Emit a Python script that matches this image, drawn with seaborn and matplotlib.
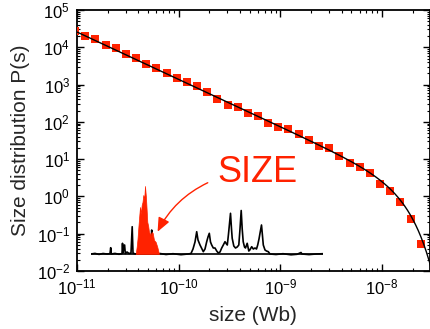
import numpy as np
import pandas as pd
import matplotlib
matplotlib.use("Agg")
import matplotlib.pyplot as plt
import seaborn as sns
from matplotlib.ticker import FixedLocator, LogLocator, LogFormatterSciNotation, NullFormatter

# ---- avalanche size distribution (flux jumps, Wb) ----
size_wb = [9.55e-12, 1.20e-11, 1.51e-11, 1.91e-11, 2.40e-11, 3.02e-11, 3.80e-11,
           4.79e-11, 6.03e-11, 7.59e-11, 9.55e-11, 1.20e-10, 1.51e-10, 1.91e-10,
           2.40e-10, 3.02e-10, 3.80e-10, 4.79e-10, 6.03e-10, 7.59e-10, 9.55e-10,
           1.20e-9, 1.51e-9, 1.91e-9, 2.40e-9, 3.02e-9, 3.80e-9, 4.79e-9,
           6.03e-9, 7.59e-9, 9.55e-9, 1.20e-8, 1.51e-8, 1.91e-8, 2.40e-8]
p_s = [2.73e4, 2.04e4, 1.66e4, 1.17e4, 9.3e3, 6.8e3, 5.2e3,
       3.6e3, 2.75e3, 2.09e3, 1.51e3, 1.15e3, 912, 617,
       417, 288, 257, 170, 141, 93, 71,
       65, 46, 33, 23, 19.5, 12.3, 7.8,
       6.3, 4.3, 2.1, 1.4, 0.69, 0.245, 0.054]

# power law with a stretched cutoff: P = A s^-tau exp(-(s/s0)^2)
fit_amp = 2.75e-10
fit_tau = 1.27
fit_cutoff = 1.45e-8

# decades labelled on each axis
x_decades = [1e-11, 1e-10, 1e-9, 1e-8]
y_decades = [1e-2, 1e-1, 1e0, 1e1, 1e2, 1e3, 1e4, 1e5]

# ---- flux signal shown as an inset (arbitrary units) ----
trace_t = [0, 4, 8, 12, 16, 19, 19.7, 20.3, 24, 28, 31, 31.5, 32, 33, 33.6, 34.3,
           36, 38, 40, 41.2, 42, 43, 44.7, 50, 60, 60.7, 61.5, 68,
           69, 75, 82, 90, 97, 100, 102, 104, 105.7, 107, 109, 110.5, 112.3, 114,
           115.7, 117, 118.3, 119.5, 120.7, 122.3, 124, 125.7, 127.3, 129, 130.7,
           132.3, 134, 135.5, 136.3, 137.5, 139.5, 140.5, 141.2, 142.8, 144.5,
           146.2, 147.8, 149, 150.2, 151.2, 152.2, 153.5, 154.5, 156.2, 157.8,
           158.8, 160.7, 162.3, 164, 165.5, 166.7, 168, 169, 170.5, 171.5, 172.3,
           174, 175.5, 177.3, 179, 185, 192, 200, 206, 210, 211, 218, 225, 232]
trace_amp = [0, 0.6, -0.4, 0.5, 0, 0.3, 6.3, 0, 0.6, -0.3, 0.4, 10.7, 1, 8.5, 9, 0.5,
             2, 0.5, 1, 27.3, 1, 0.5, 0, 0, 0, 24, 0, 0,
             0.5, -0.5, 0.3, -0.7, 0, 0.5, 5, 12, 22.3, 14, 9, 6, 2.3, 5,
             12.3, 17, 20.7, 12, 9, 6, 6, 3, 1, 2, 6,
             9, 12.3, 10, 9, 20, 40.7, 25, 15.7, 8, 6,
             7, 9, 25, 43.5, 25, 12.3, 7, 6, 10.7, 3,
             4, 7.3, 5, 6, 5, 9, 15, 20.7, 29, 18, 9,
             4, 3, 2.3, 0, -0.5, 0.3, -0.8, -0.3, 1.5, 0, -0.6, 0, 0.3]
baseline_level = 0

# highlighted event
event_t = [44.7, 45.7, 46.5, 47.3, 48, 49, 49.8, 50.7, 51.5, 52.3, 53.2, 54, 55,
           56.3, 57.2, 58, 59.7, 60.7, 61.7, 63, 64.7, 66.3, 68]
event_amp = [0, 7.3, 15, 26, 35, 47, 40, 49, 52, 59, 55, 68, 56,
             32, 28, 22, 19, 22, 21, 14, 12, 7, 0]

RED = "#ff2200"

sns.set_theme(style="ticks")
plt.rcParams["font.family"] = ["Liberation Sans", "DejaVu Sans"]
plt.rcParams["mathtext.fontset"] = "custom"
plt.rcParams["mathtext.rm"] = "Liberation Sans"
plt.rcParams["mathtext.it"] = "Liberation Sans:italic"
plt.rcParams["mathtext.bf"] = "Liberation Sans:bold"

fig = plt.figure(figsize=(4.31, 3.29), dpi=100)
ax = fig.add_axes([0.1787, 0.1763, 0.8183, 0.7933])

dist = pd.DataFrame({"size": size_wb, "P": p_s})
sns.scatterplot(data=dist, x="size", y="P", ax=ax, marker="s", s=28,
                color=RED, edgecolor=RED, linewidth=0, zorder=3, legend=False)

s_grid = np.geomspace(1e-11, 3.0e-8, 400)
fit = pd.DataFrame({"size": s_grid,
                    "P": fit_amp * s_grid ** (-fit_tau) * np.exp(-(s_grid / fit_cutoff) ** 2)})
sns.lineplot(data=fit, x="size", y="P", ax=ax, color="black", linewidth=1.0,
             zorder=4, estimator=None, sort=False)

ax.set_xscale("log")
ax.set_yscale("log")
ax.set_xlim(1e-11, 2.94e-8)
ax.set_ylim(1e-2, 1e5)

ax.xaxis.set_major_locator(FixedLocator(x_decades))
ax.yaxis.set_major_locator(FixedLocator(y_decades))
ax.xaxis.set_minor_locator(LogLocator(base=10, subs=np.arange(2, 10), numticks=20))
ax.yaxis.set_minor_locator(LogLocator(base=10, subs=np.arange(2, 10), numticks=20))
ax.xaxis.set_major_formatter(LogFormatterSciNotation())
ax.yaxis.set_major_formatter(LogFormatterSciNotation())
ax.xaxis.set_minor_formatter(NullFormatter())
ax.yaxis.set_minor_formatter(NullFormatter())

ax.tick_params(which="both", direction="in", top=True, right=True,
               colors="black", labelsize=12)
ax.tick_params(which="major", length=5, width=1.0, pad=5)
ax.tick_params(which="minor", length=2.5, width=0.8)
for sp in ax.spines.values():
    sp.set_linewidth(1.3)
    sp.set_color("black")

ax.set_xlabel("size (Wb)", fontsize=15, labelpad=6)
ax.set_ylabel("Size distribution P(s)", fontsize=15, labelpad=5)

# annotation pointing at the highlighted event
ax.text(5.9e-10, 4.25, "SIZE", color=RED, fontsize=26, ha="center", va="center")
ax.annotate("", xy=(6.2e-11, 0.113), xytext=(1.93e-10, 2.33),
            arrowprops=dict(arrowstyle="-|>,head_length=0.7,head_width=0.3",
                            color=RED, lw=1.0, shrinkA=0, shrinkB=0,
                            connectionstyle="arc3,rad=0.17"))

# inset with the raw flux signal
ins = fig.add_axes([91 / 431, 1 - 256 / 329, 232 / 431, 76 / 329])
ins.set_axis_off()
ins.patch.set_alpha(0)
ins.axhline(baseline_level, color="black", lw=1.2, zorder=1)
sns.lineplot(x=trace_t, y=trace_amp, ax=ins, color="black", linewidth=1.2,
             estimator=None, sort=False, zorder=2)
ins.fill_between(event_t, baseline_level, event_amp, color=RED, lw=0.5,
                 edgecolor=RED, zorder=3)
ins.set_xlim(0, 232)
ins.set_ylim(-2, 74)

fig.savefig("out.png", dpi=100)
